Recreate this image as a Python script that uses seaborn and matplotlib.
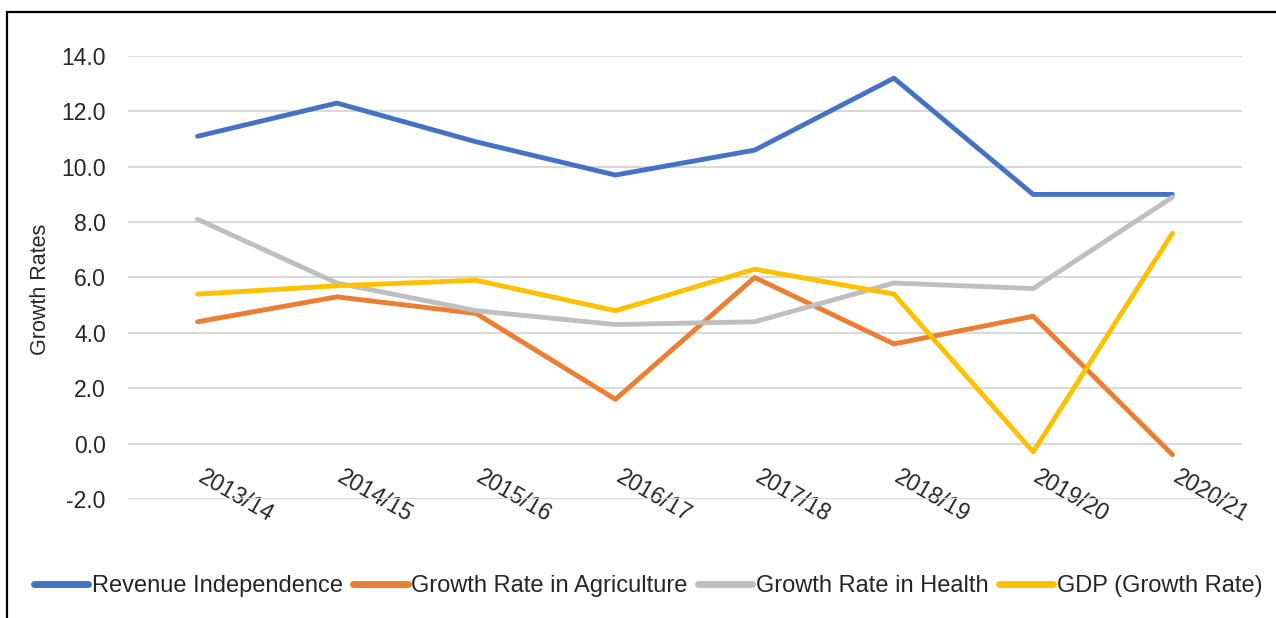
import matplotlib
matplotlib.use("Agg")
import matplotlib.pyplot as plt
import matplotlib.patches as mpatches
import matplotlib.transforms as mtransforms
import pandas as pd
import seaborn as sns

years = ["2013/14", "2014/15", "2015/16", "2016/17",
         "2017/18", "2018/19", "2019/20", "2020/21"]
revenue = [11.1, 12.3, 10.9, 9.7, 10.6, 13.2, 9.0, 9.0]
agriculture = [4.4, 5.3, 4.7, 1.6, 6.0, 3.6, 4.6, -0.4]
health = [8.1, 5.8, 4.8, 4.3, 4.4, 5.8, 5.6, 8.9]
gdp = [5.4, 5.7, 5.9, 4.8, 6.3, 5.4, -0.3, 7.6]

series_names = ["Revenue Independence", "Growth Rate in Agriculture",
                "Growth Rate in Health", "GDP (Growth Rate)"]
colors = ["#4472C4", "#ED7D31", "#BFBFBF", "#FFC000"]

df = pd.DataFrame({"Year": years,
                   series_names[0]: revenue,
                   series_names[1]: agriculture,
                   series_names[2]: health,
                   series_names[3]: gdp})
long = df.melt(id_vars="Year", var_name="Series", value_name="Value")

sns.set_style("white")
plt.rcParams["font.family"] = ["Liberation Sans", "DejaVu Sans"]

fig = plt.figure(figsize=(12.76, 6.18), dpi=100)
ax = fig.add_axes([0.1003, 0.1926, 0.8731, 0.7168])

sns.lineplot(data=long, x="Year", y="Value", hue="Series",
             hue_order=series_names, palette=colors, sort=False,
             linewidth=3.5, ax=ax, legend=True)

ax.set_xlim(-0.5, len(years) - 0.5)
ax.set_ylim(-2, 14)
ax.set_yticks(range(-2, 15, 2))
ax.set_yticklabels([f"{v:.1f}" for v in range(-2, 15, 2)])
ax.grid(axis="y", color="#D9D9D9", linewidth=1.5)
ax.grid(axis="x", visible=False)
ax.set_axisbelow(True)
for s in ax.spines.values():
    s.set_visible(False)
ax.spines["bottom"].set_position(("data", 0))

ax.tick_params(axis="y", length=0, pad=16, labelsize=16.5)
ax.tick_params(axis="x", length=0, pad=16, labelsize=16.5)
shift = mtransforms.ScaledTranslation(8 / 100, 0, fig.dpi_scale_trans)
for lab in ax.get_xticklabels():
    lab.set_rotation(-30)
    lab.set_ha("left")
    lab.set_va("top")
    lab.set_rotation_mode("anchor")
    lab.set_transform(lab.get_transform() + shift)

ax.set_xlabel("")
ax.set_ylabel("Growth Rates", fontsize=15.5)
ax.yaxis.set_label_coords(-0.069, 0.474)

handles, labels = ax.get_legend_handles_labels()
ax.get_legend().remove()
for h in handles:
    h.set_linewidth(5)
    h.set_solid_capstyle("round")
fig.legend(handles, labels, loc="center", bbox_to_anchor=(0.508, 0.052),
           ncol=4, frameon=False, fontsize=17, handlelength=2.3,
           handletextpad=0.15, columnspacing=0.45)

border = mpatches.Rectangle((7 / 1276, -0.05), 1.1, 1.05 - 12 / 618,
                            transform=fig.transFigure, fill=False,
                            edgecolor="black", linewidth=1.6, clip_on=False)
fig.patches.append(border)

fig.savefig("out.png", dpi=100)
